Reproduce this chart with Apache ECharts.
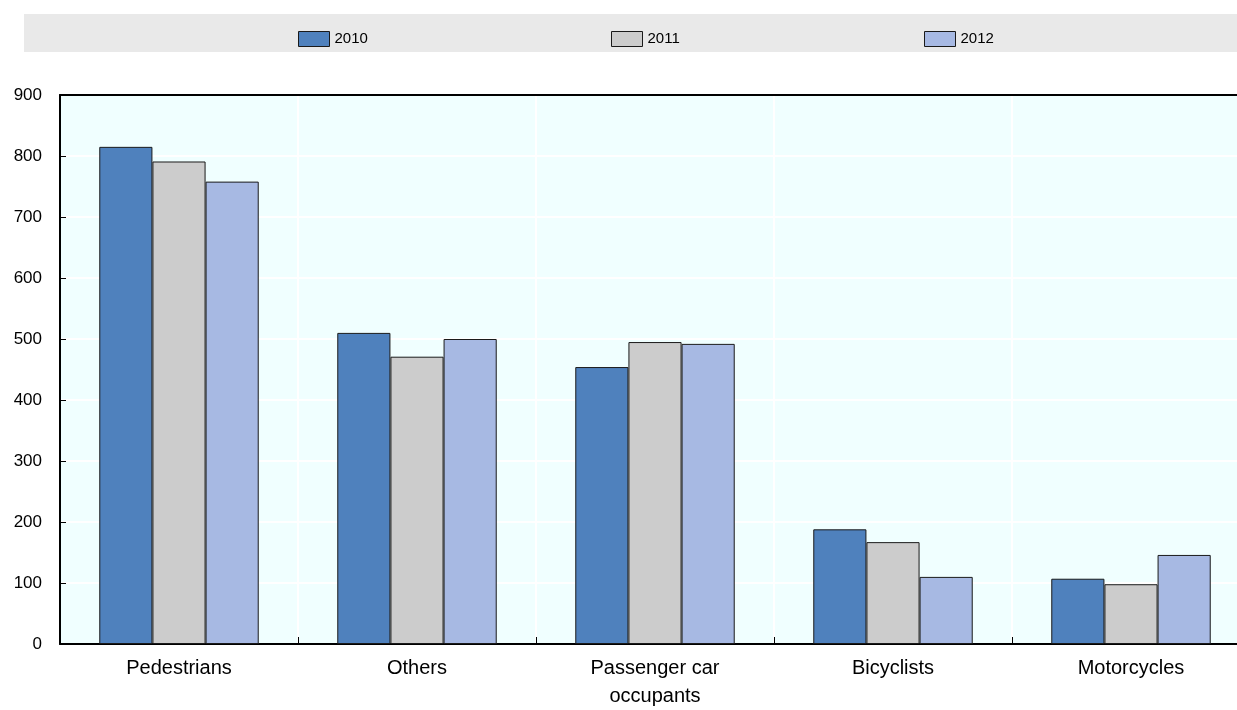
<!DOCTYPE html>
<html>
<head>
<meta charset="utf-8">
<script src="https://cdn.jsdelivr.net/npm/echarts@6/dist/echarts.min.js"></script>
<style>html,body{margin:0;padding:0;background:#fff;overflow:hidden;width:1237px;height:710px}#c{width:1250px;height:710px}</style>
</head>
<body>
<div id="c"></div>
<script>
const categories = ['Pedestrians', 'Others', 'Passenger car\noccupants', 'Bicyclists', 'Motorcycles'];
const years = ['2010', '2011', '2012'];
const values2010 = [815, 510, 454, 188, 107];
const values2011 = [791, 471, 495, 167, 98];
const values2012 = [758, 500, 492, 110, 146];
const yTicks = [0, 100, 200, 300, 400, 500, 600, 700, 800, 900];

const colors = ['#4F81BD', '#CCCCCC', '#A7B9E3'];
const seriesValues = [values2010, values2011, values2012];
const font = 'Arial, "Liberation Sans", sans-serif';

const chart = echarts.init(document.getElementById('c'));
const legendLefts = [293, 606, 919];
chart.setOption({
  animation: false,
  graphic: [{
    type: 'rect', left: 24, top: 14, z: -1,
    shape: { width: 1226, height: 38 },
    style: { fill: '#E9E9E9' }
  }],
  legend: years.map((y, i) => ({
    data: [y], left: legendLefts[i], top: 26, icon: 'rect',
    itemWidth: 31, itemHeight: 15, itemGap: 6,
    itemStyle: { borderColor: '#1a1a1a', borderWidth: 1 },
    textStyle: { fontFamily: font, fontSize: 15, color: '#000' }
  })),
  grid: { left: 60, top: 95, right: 0, bottom: 66, show: true, backgroundColor: '#F0FFFF', borderWidth: 0 },
  xAxis: [{
    type: 'category', data: categories,
    axisLine: { lineStyle: { color: '#000', width: 2 } },
    axisTick: { show: true, inside: true, length: 7, lineStyle: { color: '#000' } },
    splitLine: { show: true, lineStyle: { color: '#FFFFFF', width: 2 } },
    axisLabel: { fontFamily: font, fontSize: 20, color: '#000', margin: 10, lineHeight: 28 }
  }, {
    type: 'category', data: categories, position: 'top',
    axisLine: { show: true, onZero: false, lineStyle: { color: '#000', width: 2 } },
    axisTick: { show: false }, axisLabel: { show: false }
  }],
  yAxis: {
    type: 'value', min: yTicks[0], max: yTicks[yTicks.length - 1], interval: 100,
    axisLine: { show: true, lineStyle: { color: '#000', width: 2 } },
    axisTick: { show: true, inside: true, length: 6, lineStyle: { color: '#000' } },
    splitLine: { show: true, lineStyle: { color: '#FFFFFF', width: 2 } },
    axisLabel: { fontFamily: font, fontSize: 17, color: '#000', margin: 18 }
  },
  series: years.map((y, i) => ({
    name: y, type: 'bar', data: seriesValues[i],
    barGap: '0%', barCategoryGap: '33%',
    itemStyle: { color: colors[i], borderColor: '#1a1a1a', borderWidth: 1 }
  }))
});
</script>
</body>
</html>
